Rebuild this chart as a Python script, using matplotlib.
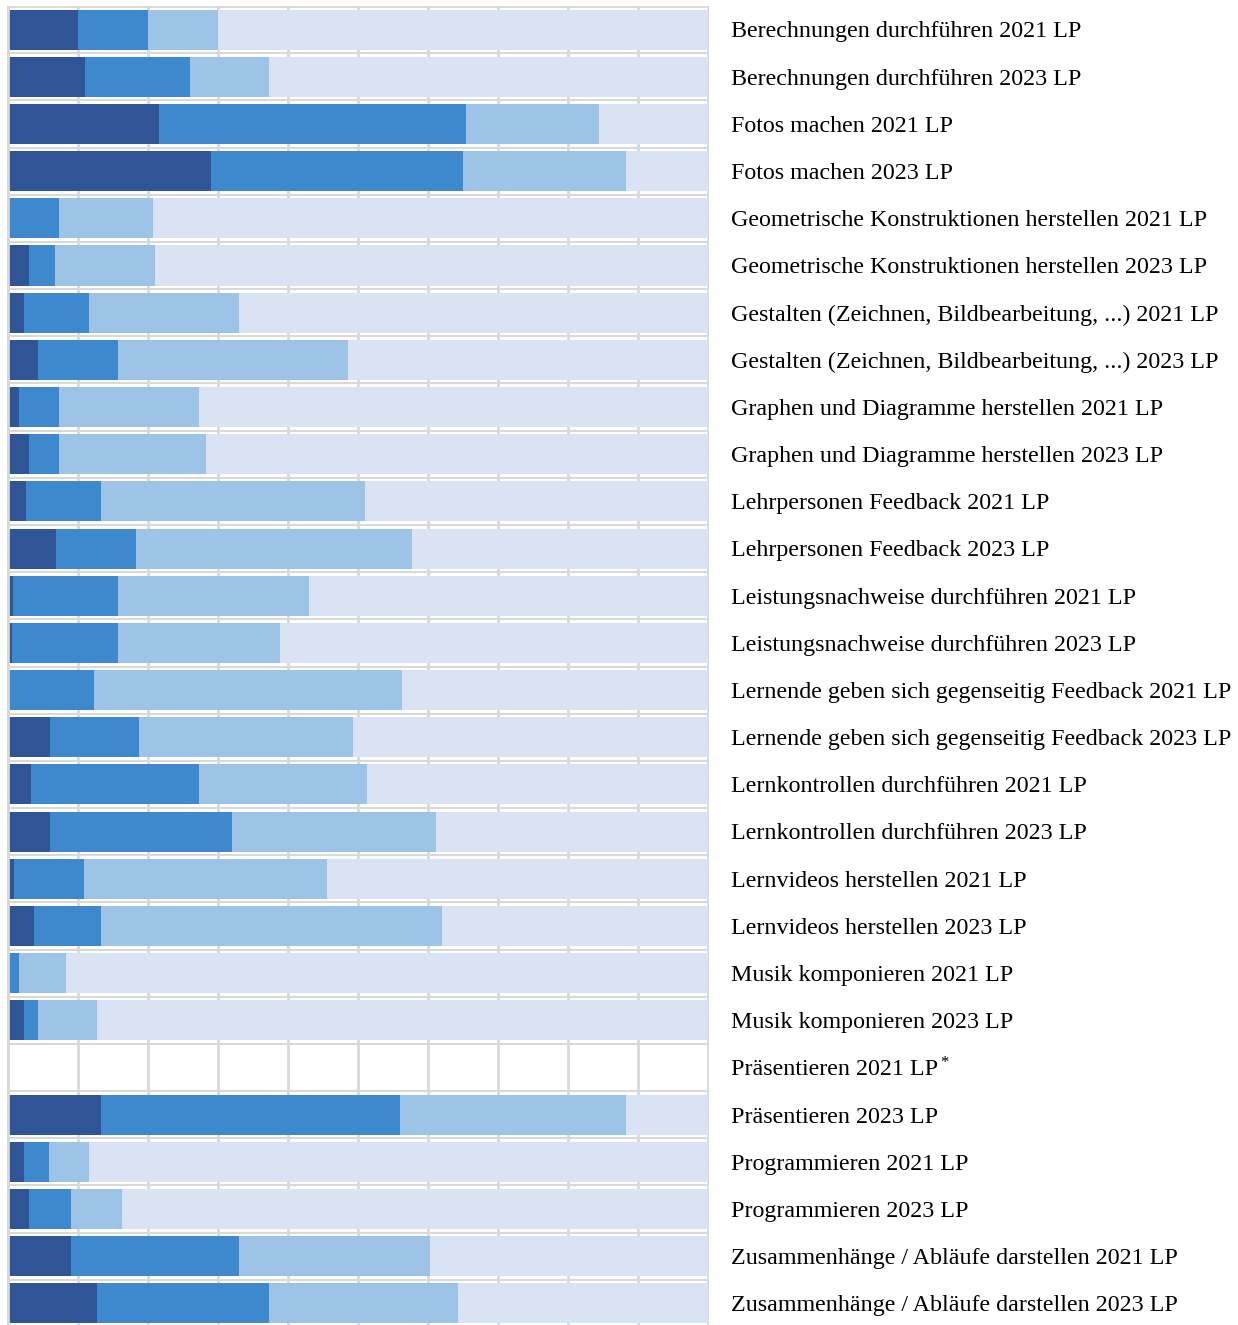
import numpy as np
import matplotlib.pyplot as plt

# Categories (top to bottom)
labels = [
    "Berechnungen durchführen 2021 LP",
    "Berechnungen durchführen 2023 LP",
    "Fotos machen 2021 LP",
    "Fotos machen 2023 LP",
    "Geometrische Konstruktionen herstellen 2021 LP",
    "Geometrische Konstruktionen herstellen 2023 LP",
    "Gestalten (Zeichnen, Bildbearbeitung, ...) 2021 LP",
    "Gestalten (Zeichnen, Bildbearbeitung, ...) 2023 LP",
    "Graphen und Diagramme herstellen 2021 LP",
    "Graphen und Diagramme herstellen 2023 LP",
    "Lehrpersonen Feedback 2021 LP",
    "Lehrpersonen Feedback 2023 LP",
    "Leistungsnachweise durchführen 2021 LP",
    "Leistungsnachweise durchführen 2023 LP",
    "Lernende geben sich gegenseitig Feedback 2021 LP",
    "Lernende geben sich gegenseitig Feedback 2023 LP",
    "Lernkontrollen durchführen 2021 LP",
    "Lernkontrollen durchführen 2023 LP",
    "Lernvideos herstellen 2021 LP",
    "Lernvideos herstellen 2023 LP",
    "Musik komponieren 2021 LP",
    "Musik komponieren 2023 LP",
    "Präsentieren 2021 LP",
    "Präsentieren 2023 LP",
    "Programmieren 2021 LP",
    "Programmieren 2023 LP",
    "Zusammenhänge / Abläufe darstellen 2021 LP",
    "Zusammenhänge / Abläufe darstellen 2023 LP",
]

# Shares in percent (NaN = no data)
dark = [10.0, 11.1, 21.6, 29.1, 0.0, 3.0, 2.4, 4.4, 1.6, 3.0, 2.6, 6.9, 0.7, 0.6,
        0.0, 6.0, 3.3, 6.0, 0.9, 3.7, 0.0, 2.3, np.nan, 13.4, 2.4, 3.0, 9.1, 12.7]
medium = [10.0, 15.0, 43.9, 36.0, 7.4, 3.7, 9.2, 11.3, 5.8, 4.4, 10.8, 11.5, 15.0, 15.1,
          12.4, 12.7, 24.0, 26.1, 10.0, 9.7, 1.6, 2.1, np.nan, 42.6, 3.5, 6.0, 24.0, 24.7]
light = [10.0, 11.3, 19.0, 23.2, 13.3, 14.3, 21.5, 32.9, 19.9, 21.0, 37.6, 39.4, 27.4, 23.2,
         43.9, 30.6, 24.0, 29.1, 34.7, 48.6, 6.7, 8.3, np.nan, 32.3, 5.7, 7.4, 27.3, 26.9]
starred = ["Präsentieren 2021 LP"]

colors = ['#2f5597', '#3e89cd', '#9dc3e6', '#dae3f3']

dark = np.array(dark)
medium = np.array(medium)
light = np.array(light)
rest = 100 - dark - medium - light
n = len(labels)
y = np.arange(n)

plt.rcParams['font.family'] = ['Liberation Serif', 'DejaVu Serif']

fig = plt.figure(figsize=(12.38, 13.25), dpi=100)
ax = fig.add_axes([7 / 1238, 1 - 1327 / 1325, 702 / 1238, 1321 / 1325])

# grid: vertical lines and row separators
for gx in np.arange(0, 101, 10):
    ax.axvline(gx, color='#d9d9d9', lw=2, zorder=0)
for gy in np.arange(-0.5, n, 1.0):
    ax.axhline(gy, color='#d9d9d9', lw=1.5, zorder=0)

h = 0.85
left = np.zeros(n)
for vals, c in zip([dark, medium, light, rest], colors):
    ok = ~np.isnan(vals)
    ax.barh(y[ok], vals[ok], left=left[ok], height=h, color=c, zorder=2,
            edgecolor=c, linewidth=0)
    left = left + np.nan_to_num(vals)

for i, lab in enumerate(labels):
    t = ax.text(103.3, i + 0.05, lab, va='center', ha='left', fontsize=17.3,
                color='black', clip_on=False)
    if lab in starred:
        ax.annotate('*', xy=(1, 1), xycoords=t, xytext=(2, 3),
                    textcoords='offset points', ha='left', va='top',
                    fontsize=12)

ax.set_xlim(-0.1, 100.2)
ax.set_ylim(n - 0.5, -0.5)
ax.set_xticks([])
ax.set_yticks([])
for s in ax.spines.values():
    s.set_visible(False)
ax.axvline(0, color='#d9d9d9', lw=2, zorder=3)
ax.axhline(-0.5, color='#d9d9d9', lw=2, zorder=3)

fig.savefig('out.png', dpi=100)
